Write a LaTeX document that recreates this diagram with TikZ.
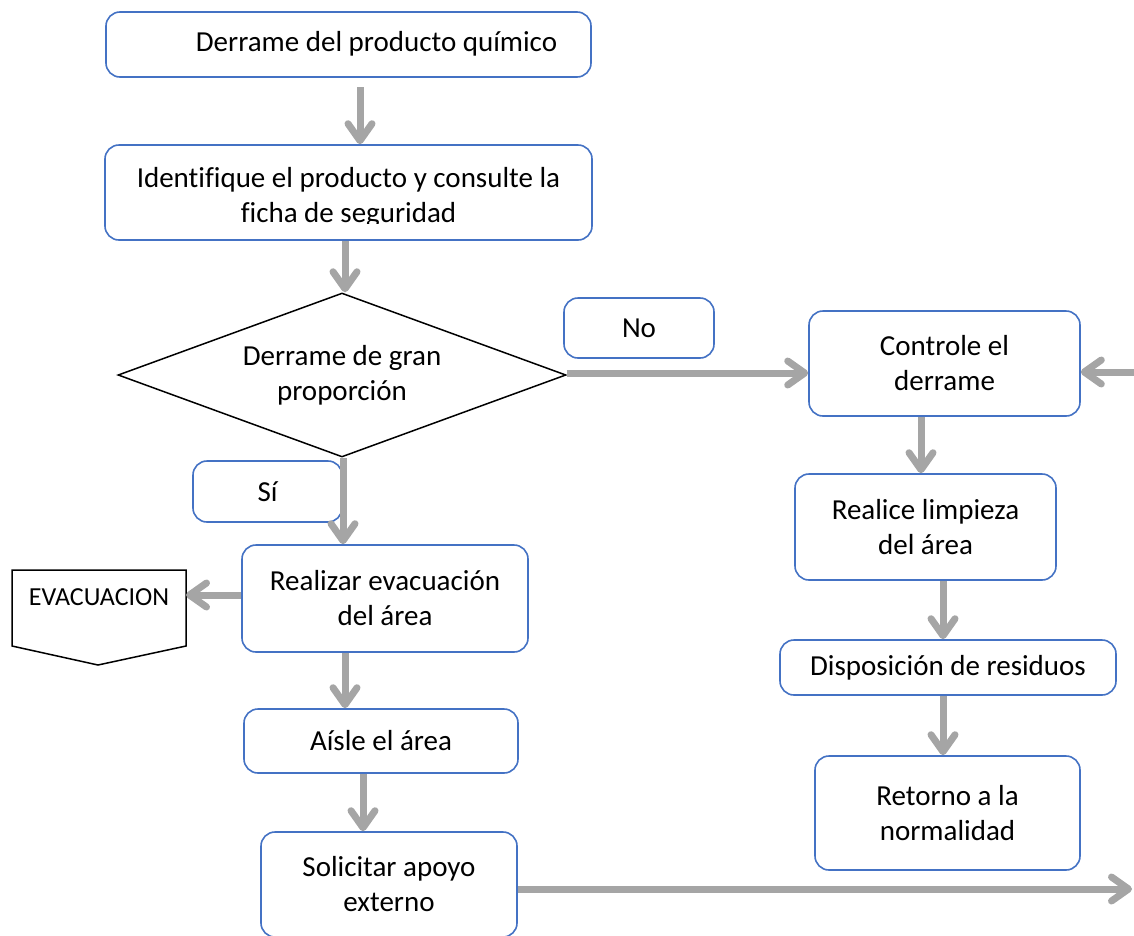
\documentclass[tikz,border=0pt]{standalone}
\usepackage{fontspec}
\setmainfont{Carlito}[Ligatures=CommonOff]
\usetikzlibrary{arrows.meta,shapes.geometric,calc}
\definecolor{boxblue}{HTML}{4472C4}
\definecolor{arrgray}{HTML}{A5A5A5}
\newcommand\bigfs{\fontsize{29}{35}\selectfont}
\newcommand\evfs{\fontsize{26}{30}\selectfont}
\tikzset{
  box/.style={draw=boxblue, line width=1.6pt, rounded corners=14pt, fill=white,
    font=\bigfs, align=center, inner sep=0pt},
  flow/.style={draw=arrgray, line width=7pt,
    -{Straight Barb[length=17pt,width=24pt,round]}},
  txt/.style={font=\bigfs, align=center, inner sep=0pt},
}
\begin{document}
\begin{tikzpicture}[x=1pt,y=-1pt]
\useasboundingbox (0,0) rectangle (1134,935);
\clip (0,0) rectangle (1134,935);
% boxes
\node[box, minimum width=485pt, minimum height=65pt] (b1) at (348.5,44.5) {};
\node[txt] (b1t) at (376.5,44) {Derrame del producto químico};
\node[box, minimum width=487pt, minimum height=95pt] (b2) at (348.5,192.5) {};
\begin{scope}
\clip (105,145) rectangle (592,223);
\node[txt, anchor=base] (b2a) at (348.5,187) {Identifique el producto y consulte la};
\node[txt, anchor=base] (b2b) at (348.5,222) {ficha de seguridad};
\end{scope}
\node[diamond, draw=black, line width=1.5pt, aspect=2.74, minimum width=448pt, minimum height=164pt,
  inner sep=0pt] (dia) at (342,375) {};
\node[txt] (diat) at (342,375) {Derrame de gran\\proporción};
\node[box, minimum width=150pt, minimum height=60pt] (no) at (639,328) {No};
\node[box, minimum width=271pt, minimum height=105pt] (ctrl) at (944.5,363.5) {Controle el\\derrame};
\node[box, minimum width=149pt, minimum height=61pt] (si) at (267.5,491.5) {Sí};
\node[box, minimum width=286pt, minimum height=107pt] (real) at (385,598.5) {Realizar evacuación\\del área};
\node[box, minimum width=274pt, minimum height=64pt] (isle) at (381,741) {Aísle el área};
\node[box, minimum width=256pt, minimum height=105pt] (sol) at (389,884.5) {Solicitar apoyo\\externo};
\node[box, minimum width=261pt, minimum height=106pt] (rl) at (925.5,527) {Realice limpieza\\del área};
\node[box, minimum width=336pt, minimum height=55pt] (disp) at (948,667.5) {Disposición de residuos};
\node[box, minimum width=265pt, minimum height=114pt] (ret) at (947.5,813) {Retorno a la\\normalidad};
% EVACUACION off-page connector
\coordinate (eNW) at (12,570);
\coordinate (eNE) at (186,570);
\coordinate (eSE) at (186,646);
\coordinate (eS) at (98,665);
\coordinate (eSW) at (12,646);
\draw[black, line width=1.5pt, line join=miter] (eNW) -- (eNE) -- (eSE) -- (eS) -- (eSW) -- cycle;
\node[font=\evfs, inner sep=0pt] (evac) at (99,597) {EVACUACION};
\coordinate (evacR) at (186,595);
% arrows
\coordinate (a1s) at (360,87);
\draw[flow] (a1s) -- (a1s |- b2.north);
\coordinate (c2) at (345,0);
\draw[flow] (c2 |- b2.south) -- (c2 |- dia.north);
\coordinate (a3) at (0,373);
\draw[flow] (dia.east |- a3) -- (ctrl.west |- a3);
\coordinate (c4) at (343,0);
\draw[flow] (c4 |- dia.south) -- (c4 |- real.north);
\draw[flow] (real.west |- evacR) -- (evacR);
\coordinate (c6) at (345,0);
\draw[flow] (c6 |- real.south) -- (c6 |- isle.north);
\coordinate (c7) at (363,0);
\draw[flow] (c7 |- isle.south) -- (c7 |- sol.north);
\coordinate (rightB) at (1132,889);
\draw[flow] (sol.east |- rightB) -- (rightB);
\coordinate (rightT) at (1134,372);
\draw[flow] (rightT) -- (rightT -| ctrl.east);
\coordinate (c10) at (921,0);
\draw[flow] (c10 |- ctrl.south) -- (c10 |- rl.north);
\coordinate (c11) at (943,0);
\draw[flow] (c11 |- rl.south) -- (c11 |- disp.north);
\draw[flow] (c11 |- disp.south) -- (c11 |- ret.north);
\end{tikzpicture}
\end{document}
